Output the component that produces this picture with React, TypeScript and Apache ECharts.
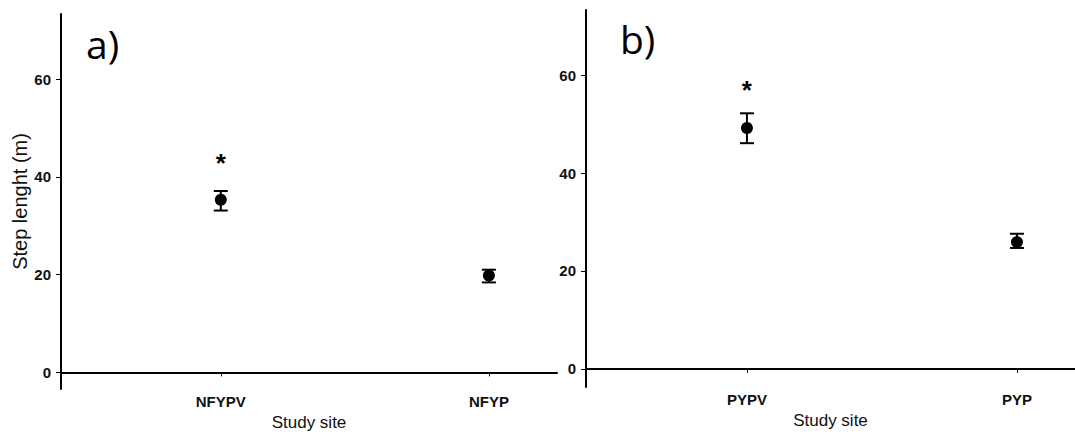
import React, { useEffect, useRef } from "react";
import * as echarts from "echarts";

const catsA = ["NFYPV", "NFYP"];
const meanA = [35.3, 19.8];
const lowA = [33.1, 18.4];
const highA = [37.1, 21.0];
const starA = [43.6, null];

const catsB = ["PYPV", "PYP"];
const meanB = [49.2, 25.9];
const lowB = [46.1, 24.7];
const highB = [52.2, 27.6];
const starB = [57.7, null];

const yTicks = [0, 20, 40, 60];
const xPos = [1, 2];

const font = "Liberation Sans, Arial, sans-serif";

function errorBars(gridIdx: number, lows: number[], highs: number[]) {
  return {
    type: "custom",
    xAxisIndex: gridIdx,
    yAxisIndex: gridIdx,
    data: xPos.map((x, i) => [x, lows[i], highs[i]]),
    renderItem: (_p: any, api: any) => {
      const x = api.value(0);
      const lo = api.coord([x, api.value(1)]);
      const hi = api.coord([x, api.value(2)]);
      const hw = 7;
      const style = { stroke: "#000", lineWidth: 2 };
      return {
        type: "group",
        children: [
          { type: "line", shape: { x1: lo[0], y1: lo[1], x2: hi[0], y2: hi[1] }, style },
          { type: "line", shape: { x1: lo[0] - hw, y1: lo[1], x2: lo[0] + hw, y2: lo[1] }, style },
          { type: "line", shape: { x1: hi[0] - hw, y1: hi[1], x2: hi[0] + hw, y2: hi[1] }, style },
        ],
      };
    },
    z: 3,
  };
}

function means(gridIdx: number, vals: number[]) {
  return {
    type: "scatter",
    xAxisIndex: gridIdx,
    yAxisIndex: gridIdx,
    symbol: "circle",
    symbolSize: 12,
    itemStyle: { color: "#000", opacity: 1 },
    data: xPos.map((x, i) => [x, vals[i]]),
    z: 4,
  };
}

function stars(gridIdx: number, vals: (number | null)[]) {
  return {
    type: "scatter",
    xAxisIndex: gridIdx,
    yAxisIndex: gridIdx,
    symbolSize: 0,
    itemStyle: { opacity: 1 },
    data: xPos
      .map((x, i) => (vals[i] == null ? null : [x, vals[i]]))
      .filter((d) => d !== null),
    label: {
      show: true,
      position: "inside",
      formatter: "*",
      fontSize: 26,
      fontWeight: "bold",
      color: "#000",
      opacity: 1,
      fontFamily: font,
      offset: [0, 4],
    },
    z: 5,
  };
}

function xAxis(gridIdx: number, cats: string[], max: number) {
  return {
    type: "value",
    gridIndex: gridIdx,
    min: 0.404,
    max,
    name: "Study site",
    nameLocation: "middle",
    nameGap: 25,
    nameTextStyle: { fontSize: 17, color: "#111", fontFamily: font },
    splitLine: { show: false },
    axisLine: { show: true, lineStyle: { color: "#000", width: 2 } },
    axisTick: { show: true, customValues: xPos, length: 4, lineStyle: { color: "#000" } },
    axisLabel: {
      customValues: xPos,
      formatter: (v: number) => cats[Math.round(v) - 1] ?? "",
      fontSize: 15,
      fontWeight: "bold",
      color: "#111",
      fontFamily: font,
      margin: 5,
    },
  };
}

function yAxis(gridIdx: number, min: number, max: number, name: string) {
  return {
    type: "value",
    gridIndex: gridIdx,
    min,
    max,
    name,
    nameLocation: "middle",
    nameGap: 29,
    nameTextStyle: { fontSize: 20, color: "#111", fontFamily: font },
    splitLine: { show: false },
    axisLine: { show: true, lineStyle: { color: "#000", width: 2 } },
    axisTick: { show: true, customValues: yTicks, length: 5, lineStyle: { color: "#000" } },
    axisLabel: {
      customValues: yTicks,
      fontSize: 15,
      fontWeight: "bold",
      color: "#111",
      fontFamily: font,
      margin: 10,
    },
  };
}

export default function App() {
  const ref = useRef<HTMLDivElement>(null);
  useEffect(() => {
    document.body.style.margin = "0";
    const chart = echarts.init(ref.current!, undefined, { renderer: "svg" });
    chart.setOption({
      animation: false,
      backgroundColor: "#fff",
      grid: [
        { left: 61, top: 14, width: 496, height: 375 },
        { left: 586, top: 10, width: 489, height: 377 },
      ],
      xAxis: [xAxis(0, catsA, 2.254), xAxis(1, catsB, 2.215)],
      yAxis: [
        yAxis(0, -3.4, 73.3, "Step lenght (m)"),
        yAxis(1, -3.7, 73.3, ""),
      ],
      graphic: [
        { type: "text", left: 86, top: 24, style: { text: "a)", fontSize: 39, fill: "#000", fontFamily: "Open Sans, Liberation Sans, sans-serif" } },
        { type: "text", left: 620, top: 19, style: { text: "b)", fontSize: 39, fill: "#000", fontFamily: "Open Sans, Liberation Sans, sans-serif" } },
      ],
      series: [
        errorBars(0, lowA, highA),
        means(0, meanA),
        stars(0, starA),
        errorBars(1, lowB, highB),
        means(1, meanB),
        stars(1, starB),
      ],
    });
    return () => chart.dispose();
  }, []);
  return <div ref={ref} style={{ width: 1075, height: 444 }} />;
}
